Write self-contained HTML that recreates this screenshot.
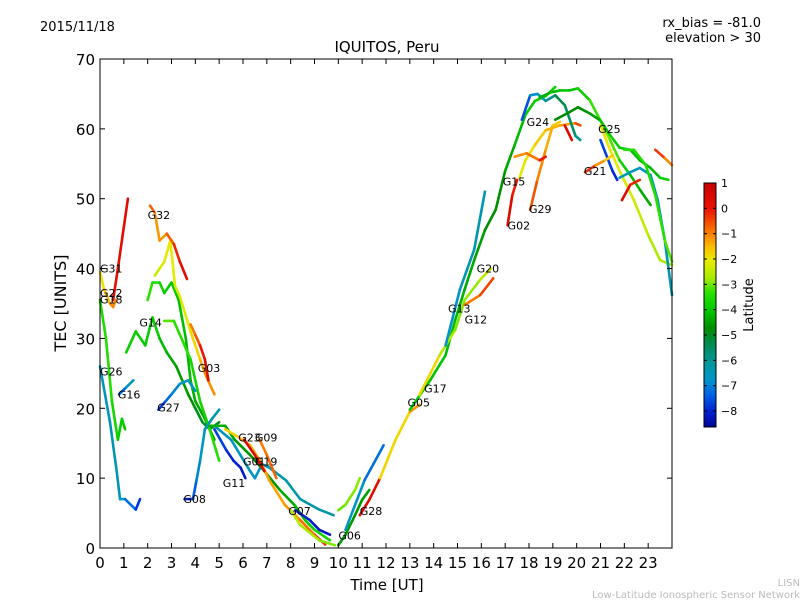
<!DOCTYPE html>
<html><head><meta charset="utf-8"><style>
body{margin:0;background:#fff;font-family:"Liberation Sans",sans-serif}
svg text{font-family:"DejaVu Sans","Liberation Sans",sans-serif}
</style></head><body>
<svg id="c" width="800" height="600" xmlns="http://www.w3.org/2000/svg">
<rect width="800" height="600" fill="#fff"/>
<text x="40" y="31" font-size="13">2015/11/18</text>
<text x="761" y="27" font-size="13" text-anchor="end">rx_bias = -81.0</text>
<text x="761" y="42" font-size="13" text-anchor="end">elevation &gt; 30</text>
<text x="387" y="52" font-size="15" text-anchor="middle">IQUITOS, Peru</text>
<text x="387" y="590" font-size="15" text-anchor="middle">Time [UT]</text>
<text x="66" y="303" font-size="16" text-anchor="middle" transform="rotate(-90 66 303)">TEC [UNITS]</text>
<text x="800" y="586" font-size="10" fill="#bbb" text-anchor="end">LISN</text>
<text x="800" y="598" font-size="10" fill="#bbb" text-anchor="end">Low-Latitude Ionospheric Sensor Network</text>
<g id="marks"></g>
<g id="axes"></g>
</svg>
<script>
const xTicks=[0,1,2,3,4,5,6,7,8,9,10,11,12,13,14,15,16,17,18,19,20,21,22,23];
const yTicks=[0,10,20,30,40,50,60,70];
const cbTicks=[1,0,-1,-2,-3,-4,-5,-6,-7,-8];
const tracks=[
["G31",[0.55,0.75,1.17],[35.5,40,50],[0.3,0.3,0.3]],
["G22",[0,0.17,0.42,0.55,0.67],[39.5,37,35,34.5,35.5],[-2,-1.8,-1.2,-1,-1]],
["G18",[0,0.25,0.5,0.75,0.92,1.05],[35.5,30,21,15.5,18.5,17],[-3.5,-3.5,-3.3,-4,-3.8,-4]],
["G26",[0,0.42,0.7,0.84,1.05,1.5,1.68],[26,18,11,7,7,5.5,7],[-6.5,-6.5,-6.3,-6.6,-6.8,-7.5,-8]],
["G16",[0.8,1.1,1.4],[22,23,24],[-7.8,-6.8,-6.5]],
["G14",[1.1,1.5,1.9,2.2,2.5,2.8,3.2,3.7,4.0,4.3,4.6,5.0],[28,31,29,33,30,28,26,22,20,18,17,18],[-3.8,-3.8,-4,-3.8,-4,-4.2,-4.5,-4.5,-4.8,-5,-5,-4.8]],
["g-hi",[2,2.2,2.5,2.7,3,3.3,3.6,3.8,4,4.4,4.8],[35.5,38,38,36.5,38,35.5,30,24,21,18.5,15.5],[-3.2,-3.4,-3.5,-3.8,-4,-4,-4.2,-4.2,-4.3,-4.5,-4.5]],
["g-mid",[2.7,3.1,3.8,4.2,4.6,5.0],[32.5,32.5,27,21,17,12.5],[-3,-3.2,-3.5,-3.8,-3.5,-3.3]],
["y-hi",[2.3,2.5,2.7,2.95,3.15,3.35,3.8,4.2,4.4,4.8],[39,40,41,44,37.5,36,31,27,25,22],[-2.5,-2.3,-2.2,-2,-2.2,-2.3,-2,-1.5,-1.2,-1]],
["G32",[2.1,2.3,2.5,2.8,3.1,3.35,3.65],[49,48,44,45,43.5,41,38.5],[-0.6,-0.8,-1.5,-0.8,-0.5,0.2,0.4]],
["G03",[3.8,4,4.2,4.4,4.55],[32,30.5,29,27,24],[-1,-0.8,-0.3,0.3,0.5]],
["G27",[2.45,2.75,3.0,3.35,3.7,4],[19.8,21,22,23.5,24,22.5],[-8,-7.5,-7,-6.8,-6.5,-6.5]],
["G08",[3.55,3.9,4.05,4.2,4.4,4.7,5],[7,7,9.7,12.5,17,18.5,19.8],[-8,-7.8,-7,-6.8,-6.5,-6.3,-6.3]],
["G11",[4.8,5.3,5.6,5.9,6.1],[17,14,12.5,11.5,10],[-7.5,-7.8,-8,-8,-8.2]],
["teal",[4.8,5.5,6.3,6.5,6.8,7.1,7.8,8.4,9.2,9.8],[17.5,15.5,11,10,12,11.5,9.7,7,5.5,4.7],[-6.5,-6.5,-6.6,-6.8,-6.5,-6.4,-6.3,-6.3,-6.2,-6.2]],
["g-main",[4.6,5.25,5.65,6.3,6.9,7.55,8.2,8.6,9,9.65],[17.5,17.5,15.5,13.3,11,8.3,6,4,2.6,1.1],[-4.3,-4.3,-4.5,-4.6,-4.7,-4.5,-4.2,-4,-3.8,-3.5]],
["G23",[5.25,5.75,6.3,6.7,7.1,7.75,8.4,9,9.45],[17,16,14.7,12.6,9.7,6.2,4,1.9,0.5],[-2,-1.5,-1.5,-1.3,-1.2,-1.3,-1,-0.5,0]],
["G23r",[6.05,6.5,6.9],[15.5,13.3,11],[0.5,0.5,0.4]],
["G09",[6.7,7.0,7.4],[15.5,13.3,10],[-1,-0.8,-0.6]],
["G07b",[8.2,8.8,9.2,9.65],[5.4,4,2.6,1.9],[-8,-8,-8.1,-8.2]],
["lime",[8,8.4,9.2,9.85],[5.4,3.3,1.1,0.4],[-2.5,-2.6,-2.8,-3]],
["G06",[10,10.3,10.7,11,11.3],[0.4,1.9,4.7,6.9,8.3],[-4.5,-4.5,-4.6,-4.5,-4.4]],
["lime2",[10,10.3,10.7,10.9],[5.4,6.2,8.3,10],[-3,-3,-2.8,-2.8]],
["cyan",[10.3,11.1,11.9],[2.6,9.7,14.7],[-6.5,-6.8,-7.5]],
["G28",[10.9,11.3,11.75],[4.7,6.9,10],[0.5,0.4,0.2]],
["rise-y",[11.75,12.4,13,13.4],[10,15.5,19.5,20.5],[-1.5,-2,-1.5,-0.8]],
["G05",[13,13.85,14.5,14.9,15.3,15.7,16.15,16.6,17,17.4,17.85,18.25,18.7,19.1],[19.8,24,27.6,32.6,37,41.2,45.5,48.4,54,57.7,62,64,64.7,66],[-4,-4,-4.1,-4.2,-4.3,-4.4,-4.6,-4.8,-4.5,-4.3,-4,-3.8,-3.8,-3.8]],
["G17",[13.4,14.25,14.9,15.3,15.95,16.4],[21.9,27.6,31.2,35.5,38.4,40],[-1,-2.5,-2.8,-3,-2.6,-2.4]],
["G12",[15.3,15.95,16.5],[34.8,36.2,38.6],[-1,-0.8,0]],
["G13",[14.5,15.1,15.7,16.15],[29,37,42.7,51],[-7,-6.5,-6.2,-6.5]],
["G02",[17.1,17.3,17.5],[46.2,50.5,52.7],[0.5,0.4,-0.5]],
["G29",[18.05,18.35,18.7,19,19.3],[48.4,52.7,57,60.5,61],[-0.3,-0.8,-1.2,-1.5,-1.8]],
["y24",[17.6,17.85,18.25,18.7,19.3,19.95,20.15],[53,55.5,57.7,59.8,60.5,60.8,60.5],[-2.2,-2,-1.8,-1.5,-1.3,-1.2,0.3]],
["o15",[17.4,17.9,18.45,18.7],[56,56.5,55.5,56],[-1,-1.2,-0.5,0.5]],
["G24",[17.7,18.05,18.35,18.7,19.1,19.5,19.95,20.15],[61.3,64.8,65,64,64.8,63.4,59,58.4],[-8,-7,-6.5,-6.3,-5.5,-5,-6,-6]],
["g-top",[18.45,18.9,19.3,19.7,20.05,20.55,20.98,21.4,21.8,22.25,22.65,23.1],[64.5,65.2,65.5,65.5,65.8,64.1,61.3,58.4,55.5,53.4,51.3,49.1],[-4.3,-4.2,-4.1,-4,-4,-3.5,-3,-2.8,-3.5,-4,-4.2,-4.5]],
["G15b",[19.1,19.7,20.05,20.55,21,21.4,21.8,22.25,22.65,23.1,23.5,23.85],[61.3,62.4,63.1,62.2,61.2,59.1,57.3,57,55.5,54.4,53,52.7],[-4.7,-4.7,-4.7,-4.6,-4.3,-3.8,-3.8,-4,-4.2,-4.3,-4,-3.5]],
["r20",[19.5,19.8],[60.5,58.4],[0.5,0.5]],
["G25",[21,21.4,21.8,22.4,23,23.5,24],[60.5,57,54,49.8,44.8,41.2,40.5],[-1.8,-2,-2.2,-2.3,-2.5,-2.8,-2.6]],
["b25",[21,21.5,21.7],[58.4,54,52.7],[-7.5,-7.8,-8]],
["t25",[21.8,22.25,22.65,23.1,23.4,23.7,24],[53,53.8,54.4,53.4,49.8,44,36.2],[-6.5,-6.6,-6.6,-6.7,-6.6,-6.5,-6.3]],
["l25",[22,22.4,22.9,23.3,23.7,24],[57,57,54.8,50.5,44,41],[-3.3,-3.4,-3.5,-3.4,-3.2,-3]],
["G21",[20.35,20.8,21.2,21.5],[53.8,54.8,55.5,56.2],[0.5,-1,-1.3,-2]],
["r22",[21.9,22.25,22.65],[49.8,52,52.7],[0.5,0.3,-0.5]],
["r23",[23.3,23.7,24],[57,55.8,54.8],[0.2,-0.8,-1.2]]
];
const labelNames=["G31","G22","G18","G32","G14","G26","G16","G27","G03","G08","G11","G23","G09","G01","G19","G07","G06","G28","G05","G17","G13","G12","G20","G15","G02","G29","G24","G21","G25"];
const labelT=[0,0,0,2.0,1.65,0,0.75,2.4,4.1,3.5,5.15,5.8,6.5,6.0,6.5,7.9,10,10.9,12.9,13.6,14.6,15.3,15.8,16.9,17.1,18.0,17.9,20.3,20.9];
const labelV=[40,36.5,35.6,47.7,32.3,25.3,22,20.1,25.8,7,9.3,15.8,15.8,12.4,12.4,5.3,1.8,5.3,20.8,22.8,34.3,32.7,40,52.5,46.2,48.5,61,54,60];
const X0=100,X1=672,Y0=548,Y1=59;
const xs=t=>X0+(X1-X0)*t/24, ys=v=>Y0-(Y0-Y1)*v/70;
const CB_TOP=183,CB_BOT=427,CB_MAX=1,CB_MIN=-8.63;
const cbY=l=>CB_TOP+(CB_MAX-l)/(CB_MAX-CB_MIN)*(CB_BOT-CB_TOP);
const STOPS=[[1,200,0,0],[0,235,20,0],[-0.8,250,110,0],[-1.5,250,190,0],[-2,235,235,0],[-2.7,170,235,0],[-3.3,40,225,0],[-4,0,200,0],[-4.7,0,140,0],[-5.3,0,140,80],[-6,0,150,150],[-6.7,0,150,200],[-7.3,0,100,230],[-8,0,30,210],[-8.7,0,0,140]];
function jet(l){l=Math.max(-8.7,Math.min(1,l));
 for(let i=0;i<STOPS.length-1;i++){const a=STOPS[i],b=STOPS[i+1];
  if(l<=a[0]&&l>=b[0]){const f=(a[0]-l)/(a[0]-b[0]);
   return `rgb(${Math.round(a[1]+(b[1]-a[1])*f)},${Math.round(a[2]+(b[2]-a[2])*f)},${Math.round(a[3]+(b[3]-a[3])*f)})`;}}
 return 'rgb(0,0,140)';}
const NS="http://www.w3.org/2000/svg";
const mk=(tag,a,p)=>{const e=document.createElementNS(NS,tag);for(const k in a)e.setAttribute(k,a[k]);p.appendChild(e);return e;};
const marks=document.getElementById('marks'),axes=document.getElementById('axes');
tracks.forEach(tr=>{const [n,t,v,l]=tr;
 const g=mk('g',{},marks);
 
 
 for(let i=0;i<t.length-1;i++){
  const s=mk('line',{x1:xs(t[i]),y1:ys(v[i]),x2:xs(t[i+1]),y2:ys(v[i+1]),stroke:jet((l[i]+l[i+1])/2),'stroke-width':2.6,'stroke-linecap':'round'},g);
  
  
 }});
labelNames.forEach((n,i)=>{const e=mk('text',{x:xs(labelT[i]),y:ys(labelV[i])+4,'font-size':11},marks);e.textContent=n;
 
 });
const fr=mk('rect',{x:X0,y:Y1,width:X1-X0,height:Y0-Y1,fill:'none',stroke:'#000','stroke-width':1},axes);


xTicks.forEach(t=>{const x=xs(t);
 mk('line',{x1:x,y1:Y0,x2:x,y2:Y0-5,stroke:'#000'},axes);mk('line',{x1:x,y1:Y1,x2:x,y2:Y1+5,stroke:'#000'},axes);
 const e=mk('text',{x:x,y:Y0+20,'font-size':15,'text-anchor':'middle'},axes);e.textContent=t;
 
 });
yTicks.forEach(v=>{const y=ys(v);
 mk('line',{x1:X0,y1:y,x2:X0+5,y2:y,stroke:'#000'},axes);mk('line',{x1:X1,y1:y,x2:X1-5,y2:y,stroke:'#000'},axes);
 const e=mk('text',{x:X0-5,y:y+6,'font-size':15,'text-anchor':'end'},axes);e.textContent=v;
 
 });
const cb=mk('g',{},axes);


for(let y=CB_TOP;y<CB_BOT;y+=2){const l=CB_MAX-(y-CB_TOP)/(CB_BOT-CB_TOP)*(CB_MAX-CB_MIN);mk('rect',{x:704,y:y,width:12,height:2.2,fill:jet(l)},cb);}
mk('rect',{x:704,y:CB_TOP,width:12,height:CB_BOT-CB_TOP,fill:'none',stroke:'#000'},cb);
cbTicks.forEach(l=>{const y=cbY(l);mk('line',{x1:704,y1:y,x2:707,y2:y,stroke:'#000'},cb);mk('line',{x1:716,y1:y,x2:713,y2:y,stroke:'#000'},cb);
 const e=mk('text',{x:721,y:y+4,'font-size':11},cb);e.textContent=l<0?'\u2212'+(-l):l;
 
 });
const ct=mk('text',{x:753,y:305,'font-size':13,'text-anchor':'middle',transform:'rotate(-90 753 305)'},cb);ct.textContent='Latitude';


</script>
</body></html>
